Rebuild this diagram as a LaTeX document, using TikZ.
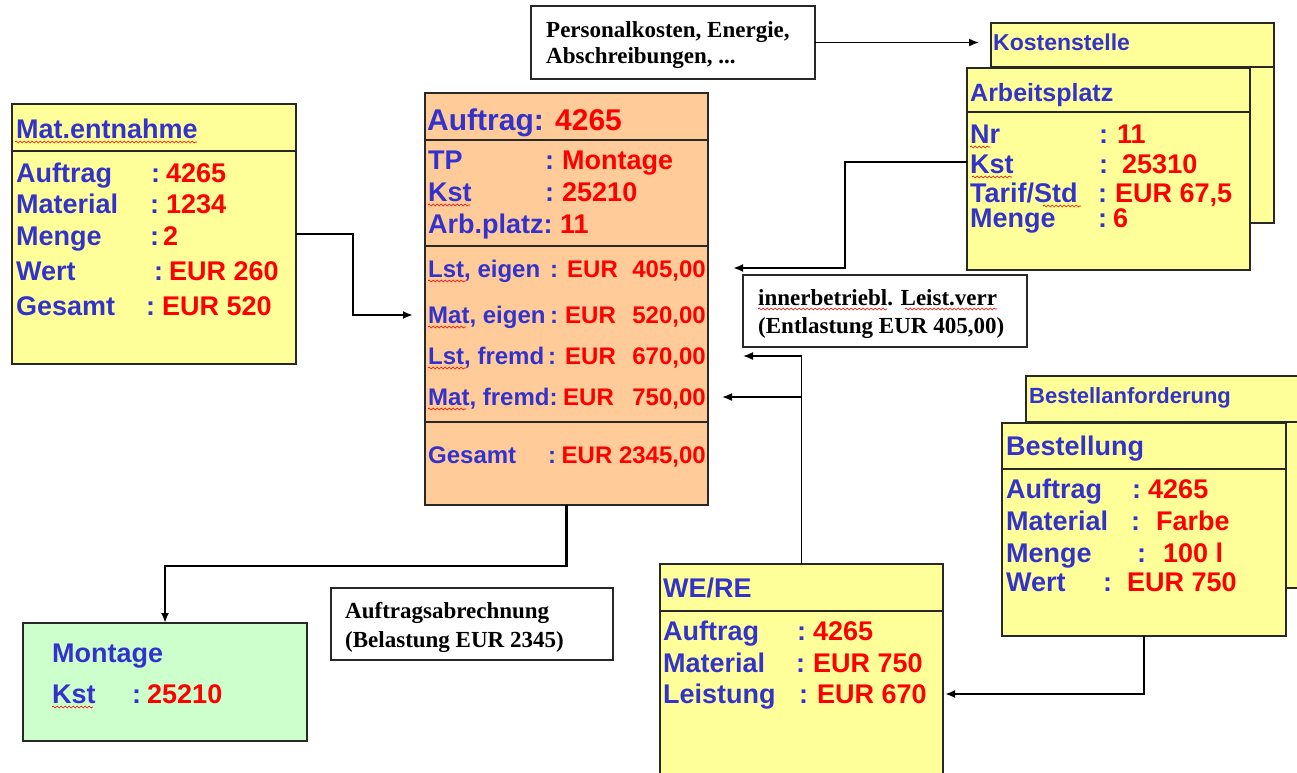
\documentclass[tikz,border=0pt]{standalone}
\usepackage{fontspec}
\setmainfont{Liberation Sans}
\newfontfamily\serifb{Liberation Serif}
\usetikzlibrary{arrows.meta,decorations.pathmorphing}
\definecolor{tblue}{RGB}{51,51,204}
\definecolor{tred}{RGB}{255,0,0}
\definecolor{tyellow}{RGB}{255,255,153}
\definecolor{torange}{RGB}{255,204,153}
\definecolor{tgreen}{RGB}{204,255,204}
\definecolor{tborder}{RGB}{40,40,40}
\newcommand\rowfnt{\fontsize{27}{32}\selectfont\bfseries}
\newcommand\trow[7]{%
  \node[lbl] (#1a) at (#3,#2) {#4};
  \node[lbl] (#1b) at (#5,#2) {:};
  \node[val] (#1c) at (#6,#2) {#7};}
\begin{document}
\begin{tikzpicture}[x=1pt,y=-1pt,
  box/.style={draw=tborder,line width=1.8pt,inner sep=0pt,outer sep=0pt},
  hline/.style={draw=tborder,line width=1.8pt},
  lbl/.style={anchor=base west,inner sep=0pt,text=tblue,font=\rowfnt},
  val/.style={anchor=base west,inner sep=0pt,text=tred,font=\rowfnt},
  ser/.style={anchor=base west,inner sep=0pt,text=black,font=\serifb\fontsize{23}{27}\selectfont\bfseries},
  conn/.style={draw=black,line width=2.6pt,-{Latex[length=10pt,width=8pt]}},
  connthin/.style={draw=black,line width=1.6pt,-{Latex[length=10pt,width=8pt]}},
  wavy/.style={draw=red,line width=0.6pt,decorate,decoration={snake,segment length=4pt,amplitude=1pt}}]
\useasboundingbox (0,0) rectangle (1297,772);

% ---------- boxes ----------
\node[box,fill=tyellow,minimum width=284pt,minimum height=260pt] (mat) at (154,234) {};
\draw[hline] (12,151) -- (296,151);

\node[box,fill=torange,minimum width=283pt,minimum height=412pt] (main) at (566.5,299) {};
\draw[hline] (425,140) -- (708,140);
\draw[hline] (425,246) -- (708,246);
\draw[hline] (425,422) -- (708,422);

\node[box,fill=white,minimum width=284pt,minimum height=73pt] (pers) at (673,42.5) {};

\node[box,fill=tyellow,minimum width=283pt,minimum height=200pt] (kost) at (1132.5,123) {};
\draw[hline] (991,67) -- (1274,67);
\node[box,fill=tyellow,minimum width=283pt,minimum height=202pt] (arb) at (1108.5,169) {};
\draw[hline] (967,112) -- (1250,112);

\node[box,fill=white,minimum width=284pt,minimum height=72pt] (inner) at (885,311) {};

\node[box,fill=tyellow,minimum width=284pt,minimum height=212pt] (bestanf) at (1168,482) {};
\draw[hline] (1026,422) -- (1310,422);
\node[box,fill=tyellow,minimum width=284pt,minimum height=213pt] (best) at (1144,529.5) {};
\draw[hline] (1002,469) -- (1286,469);

\node[box,fill=tyellow,minimum width=283pt,minimum height=236pt] (were) at (801.5,682) {};
\draw[hline] (660,611) -- (943,611);

\node[box,fill=tgreen,minimum width=284pt,minimum height=118pt] (mont) at (165,682) {};

\node[box,fill=white,minimum width=282pt,minimum height=72pt] (abr) at (472,624) {};

% ---------- connectors ----------
\coordinate (tipMat) at (413,315);
\draw[conn] (mat.east) -- ++(57,0) |- (tipMat);

\coordinate (tipK) at (979,42.5);
\draw[connthin] (pers.east) -- (tipK);

\coordinate (tipLst) at (733,268);
\draw[conn] ([yshift=7pt]arb.west) -- (845,162) |- (tipLst);

\coordinate (tipLf) at (743,356);
\coordinate (br) at (801.5,397);
\coordinate (tipMf) at (722,397);
\draw[connthin] (were.north) |- (tipLf);
\draw[connthin] (br) -- (tipMf);

\coordinate (tipW) at (945,694);
\draw[conn] (best.south) |- (tipW);

\draw[conn] (main.south) -- ++(0,61) -| (mont.north);

% ---------- Mat.entnahme ----------
\node[lbl] (mattitle) at (16,138) {Mat.entnahme};
\trow{ma}{182}{16}{Auftrag}{151}{166}{4265}
\trow{mb}{213}{16}{Material}{150}{166}{1234}
\trow{mc}{245}{16}{Menge}{150}{163}{2}
\trow{md}{280}{16}{Wert}{154}{169}{EUR 260}
\trow{me}{315}{16}{Gesamt}{146}{162}{EUR 520}

% ---------- Auftrag main ----------
\begin{scope}
\node[lbl,font=\fontsize{30}{34}\selectfont\bfseries] (ta) at (427,130) {Auftrag:};
\node[val,font=\fontsize{30}{34}\selectfont\bfseries] (tb) at (555,130) {4265};
\trow{ka}{169}{428}{TP}{545}{562}{Montage}
\trow{kb}{201}{428}{Kst}{545}{562}{25210}
\node[lbl] (kca) at (428,233) {Arb.platz:};
\node[val] (kcc) at (560,233) {11};
\renewcommand\rowfnt{\fontsize{24}{28}\selectfont\bfseries}
\node[lbl] (la) at (428,277) {Lst, eigen};
\node[lbl] (lb) at (550,277) {:};
\node[val] (lc) at (567,277) {EUR};
\node[val,anchor=base east] (ld) at (706,277) {405,00};
\node[lbl] (na) at (428,323) {Mat, eigen};
\node[lbl] (nb) at (550,323) {:};
\node[val] (nc) at (565,323) {EUR};
\node[val,anchor=base east] (nd) at (706,323) {520,00};
\node[lbl] (oa) at (428,364) {Lst, fremd};
\node[lbl] (ob) at (548,364) {:};
\node[val] (oc) at (565,364) {EUR};
\node[val,anchor=base east] (od) at (706,364) {670,00};
\node[lbl] (pa) at (428,405) {Mat, fremd:};
\node[val] (pc) at (563,405) {EUR};
\node[val,anchor=base east] (pd) at (706,405) {750,00};
\node[lbl] (qa) at (428,463) {Gesamt};
\node[lbl] (qb) at (548,463) {:};
\node[val,anchor=base east] (qc) at (706,463) {EUR 2345,00};
\end{scope}

% ---------- Personalkosten ----------
\node[ser] (pers1) at (546,37) {Personalkosten, Energie,};
\node[ser] (pers2) at (546,63) {Abschreibungen, ...};

% ---------- Kostenstelle / Arbeitsplatz ----------
\node[lbl,font=\fontsize{23}{27}\selectfont\bfseries] (kosttitle) at (993,50) {Kostenstelle};
\node[lbl,font=\fontsize{25}{29}\selectfont\bfseries] (arbtitle) at (970,101) {Arbeitsplatz};
\trow{aa}{143}{970}{Nr}{1099}{1117}{11}
\trow{ab}{173}{970}{Kst}{1099}{1122}{25310}
\trow{ac}{202}{970}{Tarif/Std}{1098}{1115}{EUR 67,5}
\trow{ad}{227}{970}{Menge}{1098}{1113}{6}

% ---------- innerbetriebl ----------
\node[ser] (inner1) at (758,305) {innerbetriebl. Leist.verr};
\node[ser] (inner2) at (758,333) {(Entlastung EUR 405,00)};

% ---------- Bestellung ----------
\node[lbl,font=\fontsize{22}{26}\selectfont\bfseries] (bestanftitle) at (1029,403) {Bestellanforderung};
\node[lbl] (besttitle) at (1006,455) {Bestellung};
\trow{ba}{498}{1006}{Auftrag}{1132}{1148}{4265}
\trow{bb}{530}{1006}{Material}{1131}{1156}{Farbe}
\trow{bc}{562}{1006}{Menge}{1137}{1163}{100 l}
\trow{bd}{591}{1006}{Wert}{1103}{1127}{EUR 750}

% ---------- WE/RE ----------
\node[lbl] (weretitle) at (663,597) {WE/RE};
\trow{wa}{640}{663}{Auftrag}{797}{813}{4265}
\trow{wb}{672}{663}{Material}{796}{813}{EUR 750}
\trow{wc}{703}{663}{Leistung}{799}{817}{EUR 670}

% ---------- Montage ----------
\node[lbl] (monttitle) at (52,662) {Montage};
\trow{ta}{703}{52}{Kst}{132}{147}{25210}

% ---------- Auftragsabrechnung ----------
\node[ser] (abr1) at (345,618) {Auftragsabrechnung};
\node[ser] (abr2) at (345,647) {(Belastung EUR 2345)};

% ---------- spell-check underlines ----------
\draw[wavy] (15,142) -- (197,142);
\draw[wavy] (428,205) -- (470,205);
\draw[wavy] (428,281) -- (466,281);
\draw[wavy] (428,327) -- (466,327);
\draw[wavy] (428,368) -- (466,368);
\draw[wavy] (428,409) -- (466,409);
\draw[wavy] (970,147) -- (990,147);
\draw[wavy] (972,177) -- (1012,177);
\draw[wavy] (1043,206) -- (1081,206);
\draw[wavy] (52,707) -- (93,707);
\draw[wavy] (758,309) -- (887,309);
\draw[wavy] (905,309) -- (997,309);
\end{tikzpicture}
\end{document}
